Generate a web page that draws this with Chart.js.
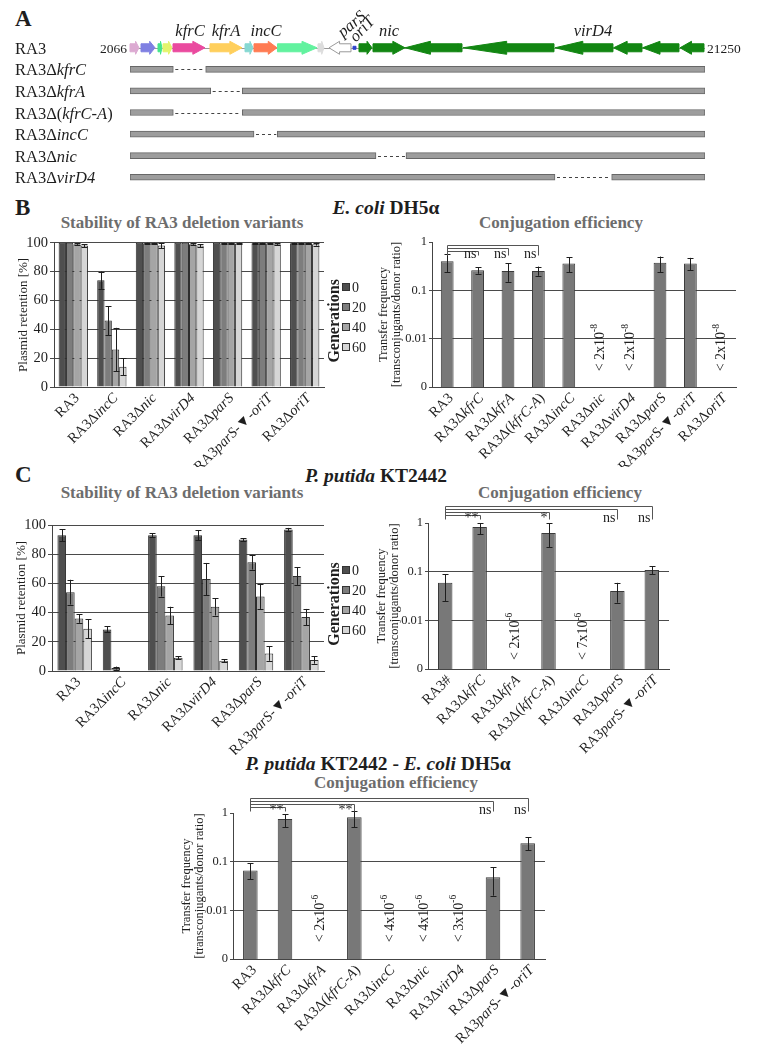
<!DOCTYPE html>
<html>
<head>
<meta charset="utf-8">
<title>RA3 deletion variants</title>
<script src="https://cdn.jsdelivr.net/npm/chart.js@4.4.1/dist/chart.umd.min.js"></script>
<style>
  body { margin: 0; background: #fff; }
  #fig { position: relative; width: 760px; height: 1053px; overflow: hidden; font-family: 'Liberation Serif', 'Times New Roman', serif; color: #1e1e1e; }
  #fig canvas { position: absolute; }
  .txt { position: absolute; white-space: nowrap; line-height: 1; }
  .letter { font-size: 23px; font-weight: bold; }
  .host { font-size: 19.5px; font-weight: bold; transform: translateX(-50%); }
  .ttl { font-size: 17px; font-weight: bold; color: #6d6d6d; transform: translateX(-50%); }
</style>
</head>
<body>
<div id="fig">
  <div class="txt letter" style="left:15px; top:7px">A</div>
  <div class="txt letter" style="left:15px; top:196px">B</div>
  <div class="txt letter" style="left:15px; top:463px">C</div>
  <div class="txt host" style="left:386px; top:198px"><i>E. coli</i> DH5α</div>
  <div class="txt host" style="left:376px; top:466px"><i>P. putida</i> KT2442</div>
  <div class="txt host" style="left:378px; top:754px"><i>P. putida</i> KT2442 - <i>E. coli</i> DH5α</div>
  <div class="txt ttl" style="left:182px; top:214px">Stability of RA3 deletion variants</div>
  <div class="txt ttl" style="left:561px; top:214px">Conjugation efficiency</div>
  <div class="txt ttl" style="left:182px; top:484px">Stability of RA3 deletion variants</div>
  <div class="txt ttl" style="left:560px; top:484px">Conjugation efficiency</div>
  <div class="txt ttl" style="left:396px; top:774px">Conjugation efficiency</div>

  <canvas id="mapA" width="760" height="195" style="left:0; top:0"></canvas>
  <canvas id="stabB" width="380" height="235" style="left:0; top:232px"></canvas>
  <canvas id="conjB" width="390" height="235" style="left:370px; top:232px"></canvas>
  <canvas id="stabC" width="380" height="245" style="left:0; top:510px"></canvas>
  <canvas id="conjC" width="400" height="275" style="left:360px; top:500px"></canvas>
  <canvas id="conjD" width="420" height="263" style="left:160px; top:790px"></canvas>
</div>

<script>
const serif = "'Liberation Serif', 'Times New Roman', serif";
Chart.defaults.font.family = serif;
Chart.defaults.color = '#1e1e1e';

// ---- A: RA3 map, positions in bp ----
const mapStart = 2066;
const mapEnd = 21250;
const mapRows = ['RA3', 'RA3Δ_kfrC_', 'RA3Δ_kfrA_', 'RA3Δ(_kfrC-A_)', 'RA3Δ_incC_', 'RA3Δ_nic_', 'RA3Δ_virD4_'];
const delFrom = [null, 3511, 4758, 3511, 6203, 10273, 16245];
const delTo = [null, 4591, 5812, 5812, 6980, 11274, 18136];

const geneFrom = [2066, 2433, 3000, 3167, 3501, 4735, 5903, 6203, 6987, 8338, 8705, 9506, 9706, 10173, 11241, 13009, 13176, 16245, 18197, 19164, 20415];
const geneTo = [2366, 2900, 3134, 3467, 4568, 5803, 6170, 6970, 8305, 8538, 9439, 9606, 10140, 11241, 13009, 13143, 16212, 18180, 19147, 20382, 21216];
const geneStrand = [1, 1, 1, 1, 1, 1, 1, 1, 1, 1, -1, 0, 1, 1, -1, 0, -1, -1, -1, -1, -1];
const geneNames = ['kfrC', 'kfrA', 'incC', 'parS', 'oriT', 'nic', 'virD4'];
const geneNameAt = [4068, 5269, 6603, 9172, 9606, 10706, 17512];

// ---- B: E. coli DH5a ----
const genLabels = ['0', '20', '40', '60'];
const stabCatsB = ['RA3', 'RA3Δ_incC_', 'RA3Δ_nic_', 'RA3Δ_virD4_', 'RA3Δ_parS_', 'RA3_parS_-▼-_oriT_', 'RA3Δ_oriT_'];
const stabB_g0 = [100, 74, 100, 100, 100, 99.6, 99.6];
const stabB_g20 = [100, 46, 99.6, 100, 99.6, 99.6, 99.6];
const stabB_g40 = [99, 26, 99.6, 99, 99.6, 99.6, 99.6];
const stabB_g60 = [98, 14, 98, 98, 99.5, 99, 99];
const stabB_e0 = [0, 6, 0, 0, 0, 0.3, 0.3];
const stabB_e20 = [0, 10, 0.3, 0, 0.3, 0.3, 0.3];
const stabB_e40 = [0.5, 15, 0.3, 0.5, 0.3, 0.3, 0.3];
const stabB_e60 = [1, 6, 1.8, 1, 0.5, 0.5, 1];

const conjCatsB = ['RA3', 'RA3Δ_kfrC_', 'RA3Δ_kfrA_', 'RA3Δ(_kfrC-A_)', 'RA3Δ_incC_', 'RA3Δ_nic_', 'RA3Δ_virD4_', 'RA3Δ_parS_', 'RA3_parS_-▼-_oriT_', 'RA3Δ_oriT_'];
const conjB = [0.40, 0.26, 0.25, 0.25, 0.36, null, null, 0.37, 0.36, null];
const conjB_lo = [0.24, 0.22, 0.15, 0.20, 0.24, null, null, 0.24, 0.26, null];
const conjB_hi = [0.57, 0.30, 0.36, 0.31, 0.48, null, null, 0.50, 0.47, null];
const conjB_below = [null, null, null, null, null, '2x10^-8', '2x10^-8', null, null, '2x10^-8'];
const sigB_to = [3, 2, 1];
const sigB_txt = ['ns', 'ns', 'ns'];

// ---- C: P. putida KT2442 ----
const stabCatsC = ['RA3', 'RA3Δ_incC_', 'RA3Δ_nic_', 'RA3Δ_virD4_', 'RA3Δ_parS_', 'RA3_parS_-▼-_oriT_'];
const stabC_g0 = [93, 28.5, 93, 93, 90, 97];
const stabC_g20 = [54, 2, 58, 63, 74.5, 65];
const stabC_g40 = [36, 0, 38, 44, 51, 37];
const stabC_g60 = [29, 0, 9, 7, 12, 7.5];
const stabC_e0 = [4, 2, 1.5, 3.5, 1, 1];
const stabC_e20 = [8.5, 1, 7, 11, 5, 6];
const stabC_e40 = [3, 0, 6, 6, 8.5, 5.5];
const stabC_e60 = [6.5, 0, 1, 1, 5, 2.5];

const conjCatsC = ['RA3#', 'RA3Δ_kfrC_', 'RA3Δ_kfrA_', 'RA3Δ(_kfrC-A_)', 'RA3Δ_incC_', 'RA3Δ_parS_', 'RA3_parS_-▼-_oriT_'];
const conjC = [0.059, 0.83, null, 0.62, null, 0.040, 0.108];
const conjC_lo = [0.025, 0.59, null, 0.32, null, 0.023, 0.089];
const conjC_hi = [0.089, 1.0, null, 0.98, null, 0.059, 0.13];
const conjC_below = [null, null, '2x10^-6', null, '7x10^-6', null, null];
const sigC_to = [6, 5, 3, 1];
const sigC_txt = ['ns', 'ns', '*', '**'];

// ---- P. putida KT2442 -> E. coli DH5a ----
const conjCatsD = ['RA3', 'RA3Δ_kfrC_', 'RA3Δ_kfrA_', 'RA3Δ(_kfrC-A_)', 'RA3Δ_incC_', 'RA3Δ_nic_', 'RA3Δ_virD4_', 'RA3Δ_parS_', 'RA3_parS_-▼-_oriT_'];
const conjD = [0.066, 0.75, null, 0.82, null, null, null, 0.048, 0.24];
const conjD_lo = [0.044, 0.51, null, 0.51, null, null, null, 0.020, 0.17];
const conjD_hi = [0.093, 0.95, null, 1.1, null, null, null, 0.077, 0.32];
const conjD_below = [null, null, '2x10^-6', null, '4x10^-6', '4x10^-6', '3x10^-6', null, null];
const sigD_to = [8, 7, 3, 1];
const sigD_txt = ['ns', 'ns', '**', '**'];

const conjTickVals = [0.001, 0.01, 0.1, 1];
const conjTickLabels = ['0', '0.01', '0.1', '1'];

// styles
const genColors = ['#4f4f4f', '#7d7d7d', '#a5a5a5', '#d6d6d6'];
const green = '#128612';
const geneFill = ['#dcaad2', '#7f80e2', '#44e58c', '#e3f46c', '#ea4a9f', '#ffcf5c', '#86d8d2', '#ff7b53', '#62f29f', '#dcdcdc', '#ffffff', '#2f44cc',
  green, green, green, green, green, green, green, green, green];
const nameTilt = { parS: { deg: -40, dy: -10 }, oriT: { deg: -47, dy: -5 } };

// label text: parts between underscores are italic
function drawMixed(ctx, label, x, y, size, align) {
  const parts = label.split('_');
  const fonts = parts.map((p, i) => (i % 2 ? 'italic ' : '') + size + 'px ' + serif);
  let total = 0;
  const widths = parts.map((p, i) => {
    ctx.font = fonts[i];
    const w = ctx.measureText(p).width;
    total += w;
    return w;
  });
  let cx = align === 'right' ? x - total : x;
  ctx.textAlign = 'left';
  parts.forEach((p, i) => {
    ctx.font = fonts[i];
    ctx.fillText(p, cx, y);
    cx += widths[i];
  });
}

function hline(ctx, x1, x2, y) {
  ctx.beginPath(); ctx.moveTo(x1, y); ctx.lineTo(x2, y); ctx.stroke();
}
function vline(ctx, x, y1, y2) {
  ctx.beginPath(); ctx.moveTo(x, y1); ctx.lineTo(x, y2); ctx.stroke();
}

// ---------- panel A ----------
const mapDeco = {
  id: 'mapDeco',
  afterDatasetsDraw(chart) {
    const ctx = chart.ctx, xs = chart.scales.x, ys = chart.scales.y;
    const px = v => xs.getPixelForValue(v);
    const y0 = ys.getPixelForValue(0);
    ctx.save();
    ctx.fillStyle = '#1e1e1e';
    ctx.textBaseline = 'alphabetic';
    mapRows.forEach((r, i) => drawMixed(ctx, r, 15, ys.getPixelForValue(i) + 6, 16.5, 'left'));

    // deleted parts
    ctx.strokeStyle = '#444';
    ctx.lineWidth = 1;
    ctx.setLineDash([3, 3]);
    delFrom.forEach((f, i) => {
      if (f == null) return;
      const y = Math.round(ys.getPixelForValue(i)) + 0.5;
      hline(ctx, px(f) + 2, px(delTo[i]) - 1, y);
    });
    ctx.setLineDash([]);

    ctx.strokeStyle = '#999';
    hline(ctx, px(mapStart), px(mapEnd), Math.round(y0) + 0.5);

    geneFrom.forEach((f, i) => {
      const a = px(f), b = px(geneTo[i]), len = b - a, s = geneStrand[i];
      ctx.fillStyle = geneFill[i];
      ctx.strokeStyle = i === 10 ? '#9a9a9a' : geneFill[i];
      ctx.beginPath();
      if (s === 0) {
        const h = i === 11 ? 1.5 : 4;
        ctx.rect(a, y0 - h, len, 2 * h);
      } else {
        const head = Math.min(len * (s > 0 ? 0.38 : 0.48), 45), bh = 4, hh = 6.5;
        if (s > 0) {
          ctx.moveTo(a, y0 - bh); ctx.lineTo(b - head, y0 - bh); ctx.lineTo(b - head, y0 - hh);
          ctx.lineTo(b, y0); ctx.lineTo(b - head, y0 + hh); ctx.lineTo(b - head, y0 + bh); ctx.lineTo(a, y0 + bh);
        } else {
          ctx.moveTo(b, y0 - bh); ctx.lineTo(a + head, y0 - bh); ctx.lineTo(a + head, y0 - hh);
          ctx.lineTo(a, y0); ctx.lineTo(a + head, y0 + hh); ctx.lineTo(a + head, y0 + bh); ctx.lineTo(b, y0 + bh);
        }
        ctx.closePath();
      }
      ctx.fill();
      ctx.stroke();
    });

    ctx.fillStyle = '#1e1e1e';
    ctx.font = '13.5px ' + serif;
    ctx.textAlign = 'right';
    ctx.fillText(String(mapStart), px(mapStart) - 3, y0 + 5);
    ctx.textAlign = 'left';
    ctx.fillText(String(mapEnd), px(mapEnd) + 2, y0 + 5);

    ctx.font = 'italic 16.5px ' + serif;
    geneNames.forEach((n, i) => {
      const t = nameTilt[n];
      if (t) {
        ctx.save();
        ctx.translate(px(geneNameAt[i]), y0 + t.dy);
        ctx.rotate(t.deg * Math.PI / 180);
        ctx.textAlign = 'left';
        ctx.fillText(n, 0, 0);
        ctx.restore();
      } else {
        ctx.textAlign = 'center';
        ctx.fillText(n, px(geneNameAt[i]), y0 - 12);
      }
    });
    ctx.restore();
  }
};

new Chart(document.getElementById('mapA'), {
  type: 'bar',
  data: {
    labels: mapRows,
    datasets: [
      { data: delFrom.map(f => f == null ? null : [mapStart, f]) },
      { data: delTo.map(t => t == null ? null : [t, mapEnd]) }
    ].map(ds => Object.assign(ds, {
      grouped: false, barThickness: 6, backgroundColor: '#9d9d9d',
      borderColor: '#676767', borderWidth: 1, borderSkipped: false
    }))
  },
  options: {
    indexAxis: 'y',
    responsive: false,
    animation: false,
    layout: { padding: { left: 130, right: 55, top: 37, bottom: 7 } },
    scales: {
      x: { type: 'linear', min: mapStart, max: mapEnd, display: false },
      y: { display: false }
    },
    plugins: { legend: { display: false }, tooltip: { enabled: false } }
  },
  plugins: [mapDeco]
});

// ---------- bar charts ----------
const decoCfg = {
  stabB: { legend: true },
  conjB: { sig: { to: sigB_to, txt: sigB_txt, dy: 3 }, below: { txt: conjB_below, at: 0.0065 } },
  stabC: { legend: true },
  conjC: { sig: { to: sigC_to, txt: sigC_txt, dy: -17 }, below: { txt: conjC_below, at: 0.0047 } },
  conjD: { sig: { to: sigD_to, txt: sigD_txt, dy: -15 }, below: { txt: conjD_below, at: 0.0068 } }
};

const barDeco = {
  id: 'barDeco',
  afterDatasetsDraw(chart) {
    const ctx = chart.ctx, ys = chart.scales.y;
    ctx.save();
    ctx.strokeStyle = '#1e1e1e';
    ctx.lineWidth = 1;
    chart.data.datasets.forEach((ds, di) => {
      chart.getDatasetMeta(di).data.forEach((bar, i) => {
        const lo = ds.errLo[i], hi = ds.errHi[i];
        if (lo == null || hi == null || hi - lo <= 0) return;
        const x = Math.round(bar.x) + 0.5;
        const y1 = ys.getPixelForValue(lo), y2 = ys.getPixelForValue(hi);
        vline(ctx, x, y1, y2);
        hline(ctx, x - 3, x + 3, Math.round(y1) + 0.5);
        hline(ctx, x - 3, x + 3, Math.round(y2) + 0.5);
      });
    });
    ctx.restore();
  },
  afterDraw(chart) {
    const ctx = chart.ctx, xs = chart.scales.x, ys = chart.scales.y, area = chart.chartArea;
    const cfg = decoCfg[chart.canvas.id] || {};
    ctx.save();
    ctx.fillStyle = '#1e1e1e';

    // rotated category labels
    ctx.textBaseline = 'middle';
    chart.data.labels.forEach((lab, i) => {
      ctx.save();
      ctx.translate(xs.getPixelForValue(i) + 4, area.bottom + 9);
      ctx.rotate(-Math.PI / 4);
      drawMixed(ctx, lab, 0, 0, 14.5, 'right');
      ctx.restore();
    });

    if (cfg.legend) {
      const cx = area.right + 11, mid = (area.top + area.bottom) / 2;
      ctx.save();
      ctx.translate(cx, mid + 6);
      ctx.rotate(-Math.PI / 2);
      ctx.font = 'bold 16px ' + serif;
      ctx.textAlign = 'center';
      ctx.fillText('Generations', 0, 0);
      ctx.restore();
      ctx.font = '14px ' + serif;
      ctx.textAlign = 'left';
      ctx.strokeStyle = '#333';
      chart.data.datasets.forEach((ds, k) => {
        const y = Math.round(mid + 2 + (k - 1.5) * 20);
        ctx.fillStyle = ds.backgroundColor;
        ctx.fillRect(cx + 7, y - 4, 8, 8);
        ctx.strokeRect(cx + 7.5, y - 3.5, 7, 7);
        ctx.fillStyle = '#1e1e1e';
        ctx.fillText(ds.label, cx + 17, y + 1);
      });
    }

    if (cfg.sig) {
      const s = cfg.sig, x0 = Math.round(xs.getPixelForValue(0)) + 0.5;
      const yTop = Math.round(area.top + s.dy) + 0.5;
      const yEnd = yTop + (s.to.length - 1) * 3 + 4;
      ctx.strokeStyle = '#555';
      ctx.font = '14px ' + serif;
      ctx.textAlign = 'right';
      ctx.textBaseline = 'alphabetic';
      s.to.forEach((t, k) => {
        const y = yTop + k * 3, x1 = Math.round(xs.getPixelForValue(t)) + 0.5;
        hline(ctx, x0, x1, y);
        vline(ctx, x1, y, yEnd);
        ctx.fillText(s.txt[k], x1 - 2, yEnd + 2);
      });
      vline(ctx, x0, yTop, yEnd);
    }

    if (cfg.below) {
      cfg.below.txt.forEach((t, i) => {
        if (!t) return;
        const [base, exp] = t.split('^');
        const main = '< ' + base;
        ctx.save();
        ctx.translate(xs.getPixelForValue(i), ys.getPixelForValue(cfg.below.at));
        ctx.rotate(-Math.PI / 2);
        ctx.textAlign = 'left';
        ctx.textBaseline = 'alphabetic';
        ctx.font = '14px ' + serif;
        const w1 = ctx.measureText(main).width;
        ctx.font = '9.5px ' + serif;
        const w2 = ctx.measureText(exp).width;
        const sx = -(w1 + w2) / 2;
        ctx.font = '14px ' + serif;
        ctx.fillText(main, sx, 4.5);
        ctx.font = '9.5px ' + serif;
        ctx.fillText(exp, sx + w1, -2);
        ctx.restore();
      });
    }
    ctx.restore();
  }
};

function xAxis(h) {
  return {
    ticks: { display: false },
    grid: { display: false },
    border: { color: '#444' },
    afterFit: s => { s.height = h; }
  };
}

function stabChart(id, cats, series, errs, box) {
  return new Chart(document.getElementById(id), {
    type: 'bar',
    data: {
      labels: cats,
      datasets: series.map((vals, k) => ({
        label: genLabels[k],
        data: vals,
        errLo: vals.map((v, i) => v - errs[k][i]),
        errHi: vals.map((v, i) => v + errs[k][i]),
        backgroundColor: genColors[k],
        borderColor: '#2e2e2e',
        borderWidth: 1,
        categoryPercentage: 0.76,
        barPercentage: 1
      }))
    },
    options: {
      responsive: false,
      animation: false,
      layout: { padding: { left: 0, right: box.right, top: box.top, bottom: 0 } },
      plugins: { legend: { display: false }, tooltip: { enabled: false } },
      scales: {
        x: xAxis(box.xh),
        y: {
          min: 0, max: 100,
          ticks: { stepSize: 20, color: '#1e1e1e', font: { size: 14.5 }, padding: 2 },
          grid: {
            color: c => (c.tick && c.tick.value === 0) ? 'rgba(0,0,0,0)' : '#4a4a4a',
            tickColor: '#4a4a4a', tickLength: 4
          },
          border: { color: '#444' },
          title: { display: true, text: 'Plasmid retention [%]', color: '#1e1e1e', font: { size: 13 }, padding: { top: box.tp, bottom: 0 } },
          afterFit: s => { s.width = box.left; }
        }
      }
    },
    plugins: [barDeco]
  });
}

function conjChart(id, cats, vals, lo, hi, box) {
  return new Chart(document.getElementById(id), {
    type: 'bar',
    data: {
      labels: cats,
      datasets: [{
        data: vals, errLo: lo, errHi: hi,
        backgroundColor: '#787878', borderColor: '#3a3a3a', borderWidth: 1,
        categoryPercentage: 0.42, barPercentage: 1
      }]
    },
    options: {
      responsive: false,
      animation: false,
      layout: { padding: { left: 0, right: box.right, top: box.top, bottom: 0 } },
      plugins: { legend: { display: false }, tooltip: { enabled: false } },
      scales: {
        x: xAxis(box.xh),
        y: {
          type: 'logarithmic', min: 0.001, max: 1,
          afterBuildTicks: s => { s.ticks = conjTickVals.map(v => ({ value: v })); },
          ticks: { callback: v => conjTickLabels[conjTickVals.indexOf(v)], color: '#1e1e1e', font: { size: 12.5 }, padding: 2 },
          grid: {
            color: c => (c.tick && (c.tick.value === 0.1 || c.tick.value === 0.01)) ? '#4a4a4a' : 'rgba(0,0,0,0)',
            tickColor: '#4a4a4a', tickLength: 3
          },
          border: { color: '#444' },
          title: {
            display: true, text: ['Transfer frequency', '[transconjugants/donor ratio]'], color: '#1e1e1e',
            font: { size: 12.5, lineHeight: 1.05 }, padding: { top: box.tp, bottom: 0 }
          },
          afterFit: s => { s.width = box.left; }
        }
      }
    },
    plugins: [barDeco]
  });
}

stabChart('stabB', stabCatsB, [stabB_g0, stabB_g20, stabB_g40, stabB_g60], [stabB_e0, stabB_e20, stabB_e40, stabB_e60],
  { left: 54, right: 56, top: 8, xh: 80, tp: 16 });
conjChart('conjB', conjCatsB, conjB, conjB_lo, conjB_hi, { left: 62, right: 24, top: 10, xh: 80, tp: 7.4 });
stabChart('stabC', stabCatsC, [stabC_g0, stabC_g20, stabC_g40, stabC_g60], [stabC_e0, stabC_e20, stabC_e40, stabC_e60],
  { left: 52, right: 56, top: 15, xh: 84, tp: 14 });
conjChart('conjC', conjCatsC, conjC, conjC_lo, conjC_hi, { left: 68, right: 91, top: 23, xh: 106, tp: 15.4 });
conjChart('conjD', conjCatsD, conjD, conjD_lo, conjD_hi, { left: 73, right: 35, top: 23, xh: 94, tp: 20.4 });
</script>
</body>
</html>
